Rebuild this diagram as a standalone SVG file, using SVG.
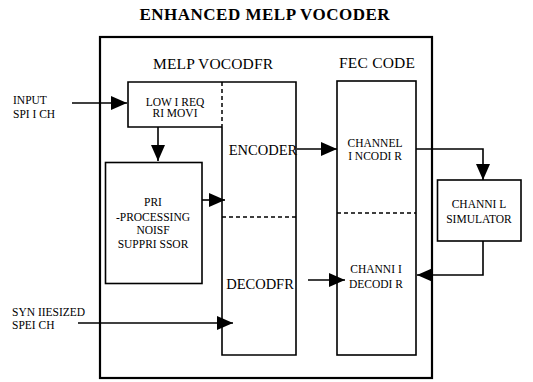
<svg xmlns="http://www.w3.org/2000/svg" width="533" height="382" viewBox="0 0 533 382" font-family="'Liberation Serif', 'Times New Roman', serif">
<style>
text{font-family:'Liberation Serif','Times New Roman',serif;fill:#000}
.box{fill:none;stroke:#000;stroke-width:1.6}
.dash{fill:none;stroke:#000;stroke-width:1.5;stroke-dasharray:4,3}
.conn{fill:none;stroke:#000;stroke-width:1.6}
.s{font-size:11.5px}
.m{font-size:14.5px}
</style>
<defs>
<marker id="ah" markerUnits="userSpaceOnUse" markerWidth="17" markerHeight="15" refX="16" refY="7" orient="auto">
<path d="M0,0 L16,7 L0,14 z" fill="#000"/>
</marker>
</defs>
<rect width="533" height="382" fill="#fff"/>
<text x="264.5" y="20" text-anchor="middle" font-size="17" font-weight="bold" textLength="250">ENHANCED MELP VOCODER</text>
<g id="outer">
<rect x="100" y="37" width="332" height="341" fill="none" stroke="#000" stroke-width="2.2"/>
<text x="213" y="69" text-anchor="middle" font-size="15.5" textLength="120">MELP VOCODFR</text>
<text x="377" y="68" text-anchor="middle" font-size="15.5" textLength="76">FEC CODE</text>
</g>
<g id="lowfreq">
<path class="box" d="M222,82 H128 V127 H222"/>
<line class="dash" x1="222" y1="82" x2="222" y2="127"/>
<text class="s" x="175" y="106" text-anchor="middle">LOW I REQ</text>
<text class="s" x="175" y="117" text-anchor="middle">RI MOVI</text>
</g>
<g id="preproc">
<rect class="box" x="105.5" y="162.5" width="96.5" height="121"/>
<text class="s" x="153" y="206" text-anchor="middle">PRI</text>
<text class="s" x="153" y="221" text-anchor="middle">-PROCESSING</text>
<text class="s" x="153" y="234" text-anchor="middle">NOISF</text>
<text class="s" x="153" y="248" text-anchor="middle">SUPPRI SSOR</text>
</g>
<g id="encdec">
<path class="box" d="M222,127 V355 H296 V82 H222"/>
<line class="dash" x1="222" y1="217" x2="296" y2="217"/>
<text class="m" x="263" y="155" text-anchor="middle">ENCODER</text>
<text class="m" x="260" y="289" text-anchor="middle">DECODFR</text>
</g>
<g id="chcode">
<rect class="box" x="337" y="81" width="79" height="274"/>
<line class="dash" x1="337" y1="213" x2="416" y2="213"/>
<text class="s" x="375" y="147" text-anchor="middle">CHANNEL</text>
<text class="s" x="375" y="160" text-anchor="middle">I NCODI R</text>
<text class="s" x="376" y="273" text-anchor="middle">CHANNI I</text>
<text class="s" x="376" y="288" text-anchor="middle">DECODI R</text>
</g>
<g id="simulator">
<rect class="box" x="437.5" y="180" width="83.5" height="61"/>
<text class="s" x="479" y="208" text-anchor="middle">CHANNI L</text>
<text class="s" x="479" y="223" text-anchor="middle">SIMULATOR</text>
</g>
<g id="labels">
<text class="s" x="13" y="104">INPUT</text>
<text class="s" x="13" y="118">SPI I CH</text>
<text class="s" x="12" y="316">SYN IIESIZED</text>
<text class="s" x="12" y="329">SPEI CH</text>
</g>
<g id="connectors">
<line class="conn" x1="72" y1="103" x2="127" y2="103" marker-end="url(#ah)"/>
<line class="conn" x1="158" y1="127" x2="158" y2="161" marker-end="url(#ah)"/>
<line class="conn" x1="202" y1="200" x2="225" y2="200" marker-end="url(#ah)"/>
<line class="conn" x1="297" y1="149" x2="337" y2="149" marker-end="url(#ah)"/>
<polyline class="conn" points="416,149 483,149 483,180" marker-end="url(#ah)"/>
<polyline class="conn" points="483,241 483,275 417,275" marker-end="url(#ah)"/>
<line class="conn" x1="308" y1="280" x2="345" y2="280" marker-end="url(#ah)"/>
<line class="conn" x1="78" y1="323" x2="233" y2="323" marker-end="url(#ah)"/>
</g>
</svg>
